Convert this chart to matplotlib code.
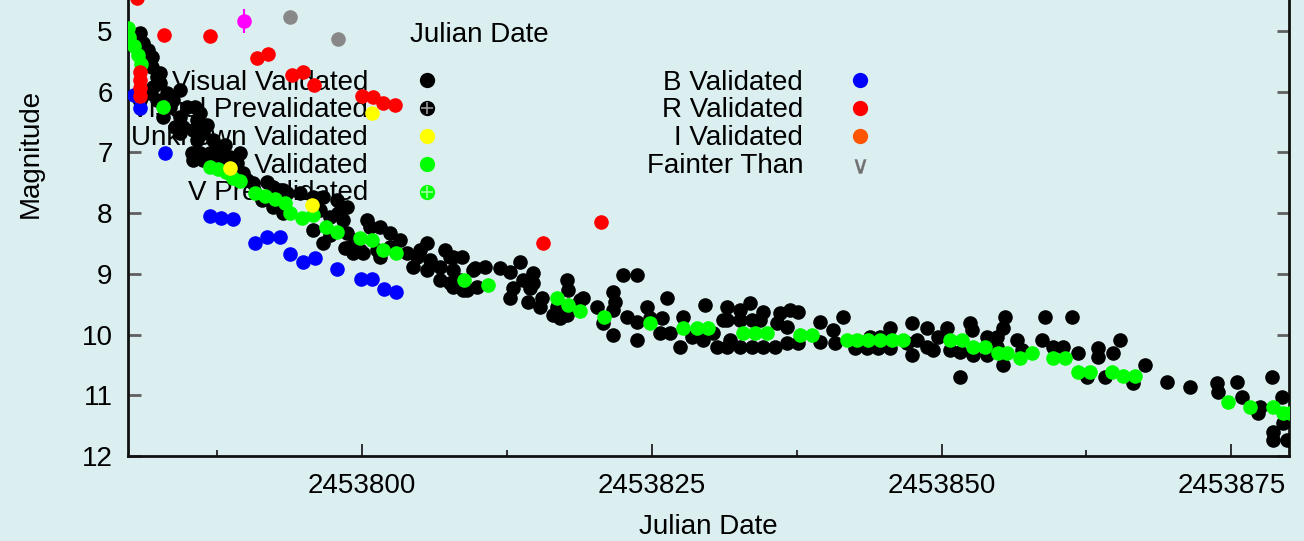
import matplotlib
matplotlib.use("Agg")
import matplotlib.pyplot as plt
from matplotlib.ticker import FixedLocator, FuncFormatter

plt.rcParams['font.family'] = ['Liberation Sans', 'DejaVu Sans']

BG = '#dbeef0'

# Visual Validated (black)
visual_jd = [
    2453780.85, 2453781.10, 2453781.54, 2453781.88, 2453781.88, 2453782.31, 2453782.57, 2453781.97,
    2453781.71, 2453783.18, 2453784.30, 2453783.43, 2453784.90, 2453785.59, 2453786.02, 2453785.76,
    2453784.30, 2453784.56, 2453785.42, 2453786.28, 2453787.14, 2453785.76, 2453785.33, 2453786.02,
    2453786.89, 2453787.75, 2453788.61, 2453789.47, 2453786.28, 2453788.87, 2453789.73, 2453790.08,
    2453790.60, 2453791.80, 2453792.32, 2453792.93, 2453793.53, 2453792.32, 2453793.18, 2453789.21,
    2453787.75, 2453785.42, 2453782.57, 2453782.31, 2453783.69, 2453782.83, 2453784.30, 2453791.37,
    2453783.87, 2453786.63, 2453788.18, 2453787.49, 2453788.44,
    2453794.65, 2453795.77, 2453796.64, 2453797.84, 2453798.71, 2453797.93, 2453797.24, 2453795.77,
    2453796.64, 2453798.36, 2453798.71, 2453798.96, 2453799.22, 2453800.43, 2453800.69, 2453801.55,
    2453802.42, 2453803.28, 2453802.42, 2453801.55, 2453803.88, 2453804.75, 2453805.61, 2453805.87,
    2453806.73, 2453807.85, 2453808.63, 2453807.85, 2453809.58, 2453807.85, 2453809.06, 2453809.92,
    2453801.29, 2453800.09, 2453804.40, 2453805.61, 2453793.18,
    2453796.38, 2453799.40, 2453798.53, 2453797.24, 2453799.83, 2453805.00, 2453807.16, 2453808.46,
    2453806.73,
    2453809.75, 2453810.61, 2453811.91, 2453812.77, 2453813.63, 2453814.75, 2453813.89, 2453813.03,
    2453812.77, 2453814.50, 2453815.53, 2453814.32, 2453815.36, 2453816.82, 2453817.69, 2453817.77,
    2453819.07, 2453817.08, 2453816.48, 2453817.69, 2453818.81, 2453820.28, 2453820.79, 2453821.66,
    2453821.83, 2453821.66, 2453821.66, 2453822.52, 2453823.73, 2453822.86, 2453823.73, 2453823.73,
    2453824.59, 2453824.85, 2453826.32, 2453825.89, 2453826.57, 2453825.71, 2453827.70, 2453827.44,
    2453828.47, 2453829.42, 2453829.59, 2453831.15, 2453831.49, 2453830.63, 2453831.75, 2453830.28,
    2453807.59, 2453808.71, 2453807.59, 2453814.75,
    2453832.61, 2453833.48, 2453834.60, 2453836.07, 2453836.93, 2453837.62, 2453831.49, 2453832.61,
    2453833.65, 2453834.34, 2453835.81, 2453836.67, 2453839.52, 2453840.64, 2453841.50, 2453831.49,
    2453832.61, 2453833.65, 2453834.60, 2453835.63, 2453836.67, 2453837.62, 2453839.52, 2453840.81,
    2453842.54, 2453843.57, 2453844.52, 2453845.56, 2453845.56, 2453847.45, 2453848.75, 2453847.45,
    2453848.75, 2453850.47, 2453851.60, 2453852.46, 2453852.72, 2453853.93, 2453854.79, 2453851.60,
    2453843.83, 2453844.69, 2453847.88, 2453849.70, 2453847.02, 2453850.73, 2453849.27, 2453852.63,
    2453855.48, 2453855.31, 2453855.31, 2453856.51, 2453856.94, 2453858.93, 2453861.26, 2453858.67,
    2453859.62, 2453860.48, 2453861.78, 2453862.55, 2453863.50, 2453864.11, 2453864.80, 2453865.40,
    2453866.52, 2453867.56, 2453869.46, 2453871.44, 2453873.77, 2453873.86, 2453875.50, 2453875.93,
    2453877.48, 2453877.31, 2453878.51, 2453878.60, 2453879.38, 2453879.46, 2453879.81, 2453878.60,
    2453863.50, 2453854.79, 2453853.93,
]
visual_mag = [
    5.03, 5.20, 5.31, 5.43, 5.59, 5.76, 5.69, 5.92,
    6.02, 6.02, 5.97, 6.25, 6.25, 6.25, 6.35, 6.47,
    6.42, 6.58, 6.63, 6.68, 6.80, 6.80, 7.01, 7.01,
    7.01, 7.08, 7.08, 7.01, 7.13, 7.29, 7.34, 7.45,
    7.50, 7.49, 7.57, 7.62, 7.67, 7.90, 8.00, 7.17,
    6.96, 7.13, 5.86, 6.14, 6.14, 6.42, 6.68, 7.78,
    6.58, 6.55, 6.88, 7.21, 7.13,
    7.67, 7.73, 7.73, 7.78, 7.90, 8.00, 8.06, 8.28,
    8.49, 8.11, 8.33, 8.56, 8.66, 8.11, 8.23, 8.23,
    8.33, 8.44, 8.56, 8.72, 8.66, 8.72, 8.49, 8.77,
    8.89, 8.72, 8.72, 8.94, 8.94, 9.22, 9.27, 9.22,
    8.61, 8.66, 8.89, 8.94, 7.62,
    7.95, 8.44, 8.57, 8.36, 8.61, 8.61, 8.61, 9.10,
    9.10,
    8.90, 8.89, 8.90, 8.97, 8.81, 8.99, 9.10, 9.23,
    9.40, 9.23, 9.40, 9.46, 9.55, 9.55, 9.10, 9.27,
    9.40, 9.73, 9.68, 9.68, 9.43, 9.55, 9.81, 9.30,
    9.46, 9.60, 10.01, 9.02, 9.02, 9.71, 9.79, 10.09,
    9.55, 9.73, 9.40, 9.73, 9.98, 9.98, 9.71, 10.21,
    10.04, 10.09, 9.51, 9.76, 9.55, 10.21, 10.09, 9.98,
    9.15, 9.27, 8.72, 9.15,
    9.60, 9.48, 9.63, 9.65, 9.60, 9.63, 9.76, 9.76,
    9.76, 9.76, 9.81, 9.88, 9.79, 9.93, 9.71, 10.21,
    10.21, 10.21, 10.21, 10.21, 10.14, 10.14, 10.12, 10.14,
    10.22, 10.22, 10.22, 10.22, 9.89, 9.81, 9.89, 10.34,
    10.21, 9.89, 10.29, 9.81, 10.34, 10.34, 10.04, 10.70,
    10.04, 10.04, 10.09, 10.04, 10.14, 10.26, 10.26, 9.93,
    9.71, 9.89, 10.50, 10.09, 10.26, 9.71, 9.71, 10.09,
    10.21, 10.21, 10.30, 10.70, 10.22, 10.70, 10.30, 10.09,
    10.80, 10.50, 10.78, 10.86, 10.80, 10.95, 10.78, 11.03,
    11.19, 11.29, 10.70, 11.61, 11.03, 11.46, 11.74, 11.74,
    10.37, 10.21, 10.04,
]

# V Validated (green)
v_jd = [
    2453779.81, 2453779.90, 2453780.33, 2453780.67, 2453780.93, 2453782.83, 2453786.89, 2453787.58,
    2453788.27, 2453788.87, 2453789.47, 2453790.77, 2453791.63, 2453792.49, 2453793.36, 2453793.79,
    2453794.82, 2453795.77, 2453796.89, 2453797.84, 2453799.83, 2453800.86, 2453801.81, 2453802.93,
    2453808.80, 2453810.87, 2453816.82, 2453817.77, 2453818.81, 2453820.88, 2453824.85, 2453827.70,
    2453828.90, 2453829.85, 2453832.87, 2453833.91, 2453834.94, 2453837.79, 2453838.83, 2453841.85,
    2453842.71, 2453843.66, 2453844.69, 2453845.73, 2453846.68, 2453850.73, 2453851.77, 2453852.72,
    2453853.75, 2453854.87, 2453855.65, 2453856.77, 2453857.81, 2453859.62, 2453860.66, 2453861.78,
    2453862.81, 2453864.71, 2453865.66, 2453866.69, 2453874.72, 2453876.62, 2453878.60, 2453879.46,
    2453880.07,
]
v_mag = [
    4.95, 5.10, 5.25, 5.40, 5.54, 6.25, 7.24, 7.27,
    7.32, 7.42, 7.47, 7.67, 7.72, 7.77, 7.83, 8.00,
    8.08, 8.03, 8.23, 8.31, 8.41, 8.44, 8.61, 8.66,
    9.10, 9.18, 9.40, 9.51, 9.61, 9.71, 9.81, 9.89,
    9.89, 9.89, 9.98, 9.98, 9.98, 10.01, 10.01, 10.09,
    10.09, 10.09, 10.09, 10.09, 10.09, 10.09, 10.09, 10.21,
    10.21, 10.30, 10.30, 10.39, 10.30, 10.39, 10.39, 10.62,
    10.62, 10.62, 10.68, 10.68, 11.11, 11.19, 11.19, 11.29,
    11.29,
]

# B Validated (blue)
b_jd = [2453780.33, 2453780.85, 2453783.00, 2453786.89, 2453787.83, 2453788.87, 2453790.77,
        2453791.80, 2453792.93, 2453793.79, 2453794.91, 2453795.94, 2453797.84, 2453799.91,
        2453800.86, 2453801.90, 2453802.93]
b_mag = [6.05, 6.27, 7.01, 8.05, 8.08, 8.10, 8.49, 8.39, 8.39, 8.67, 8.81, 8.74, 8.92,
         9.09, 9.09, 9.25, 9.30]

# R Validated (red)
r_jd = [2453780.59, 2453782.92, 2453786.89, 2453790.94, 2453791.89, 2453793.96, 2453794.91,
        2453795.86, 2453780.85, 2453780.85, 2453780.85, 2453780.85, 2453800.00, 2453800.95,
        2453801.81, 2453802.85, 2453820.62]
r_mag = [4.46, 5.07, 5.08, 5.44, 5.38, 5.72, 5.68, 5.89, 5.68, 5.81, 5.94, 6.07, 6.07,
         6.09, 6.19, 6.22, 8.15]
r_err_jd = [2453815.62]
r_err_mag = [8.49]
r_err = [0.1]

# Unknown Validated (yellow)
u_jd = [2453800.86, 2453788.61, 2453795.70]
u_mag = [6.35, 7.26, 7.87]

# other bands
grey_jd = [2453793.79, 2453797.93]
grey_mag = [4.77, 5.13]
mag_jd = [2453789.82]
mag_mag = [4.84]
mag_err = [0.2]

legend_left = ['Visual Validated', 'Visual Prevalidated', 'Unknown Validated',
               'V Validated', 'V Prevalidated']
legend_right = ['B Validated', 'R Validated', 'I Validated', 'Fainter Than']

x_major = [2453800, 2453825, 2453850, 2453875]
x_minor = [2453787.5, 2453812.5, 2453837.5, 2453862.5]
y_major = [5, 6, 7, 8, 9, 10, 11, 12]

fig = plt.figure(figsize=(13.04, 5.41), dpi=100, facecolor=BG)
ax = fig.add_axes([128 / 1304, 85 / 541, 1161 / 1304, 456 / 541], facecolor=BG)

ms = 10.5
ax.plot(visual_jd, visual_mag, 'o', color='black', ms=ms, mew=0, zorder=3)
ax.plot(v_jd, v_mag, 'o', color='#00ff00', ms=ms, mew=0, zorder=4)
ax.plot(b_jd, b_mag, 'o', color='#0000ff', ms=ms, mew=0, zorder=4)
ax.plot(r_jd, r_mag, 'o', color='#ff0000', ms=ms, mew=0, zorder=5)
ax.errorbar(r_err_jd, r_err_mag, yerr=r_err, fmt='o', color='#ff0000', ms=ms, mew=0,
            elinewidth=1.5, capsize=0, zorder=5)
ax.plot(u_jd, u_mag, 'o', color='#ffff00', ms=ms, mew=0, zorder=6)
ax.plot(grey_jd, grey_mag, 'o', color='#888888', ms=ms, mew=0, zorder=4)
ax.errorbar(mag_jd, mag_mag, yerr=mag_err, fmt='o', color='#ff00ff', ms=ms, mew=0,
            elinewidth=1.5, capsize=0, zorder=4)

ax.set_xlim(2453779.81, 2453879.98)
ax.set_ylim(12, 4.489)

# legend drawn under the data
fs = 20
tkw = dict(transform=ax.transAxes, fontsize=fs, zorder=1, va='baseline', ha='right')
ax.text(0.2429, 0.9079, 'Julian Date', transform=ax.transAxes, fontsize=fs, zorder=1,
        va='baseline', ha='left')
base_y = [0.8026, 0.7434, 0.6820, 0.6206, 0.5614]
mark_y = [0.8246, 0.7632, 0.7018, 0.6404, 0.5789]
for lbl, yb in zip(legend_left, base_y):
    ax.text(0.2067, yb, lbl, **tkw)
for lbl, yb in zip(legend_right, base_y):
    ax.text(0.5814, yb, lbl, **tkw)

lkw = dict(transform=ax.transAxes, ms=11, mew=0, zorder=2, clip_on=False)
ax.plot([0.2575], [mark_y[0]], 'o', color='black', **lkw)
ax.plot([0.2575], [mark_y[1]], 'o', color='black', **lkw)
ax.plot([0.2575], [mark_y[1]], '+', color='#9a9a9a', transform=ax.transAxes, ms=8, mew=1.2, zorder=2)
ax.plot([0.2575], [mark_y[2]], 'o', color='#ffff00', **lkw)
ax.plot([0.2575], [mark_y[3]], 'o', color='#00ff00', **lkw)
ax.plot([0.2575], [mark_y[4]], 'o', color='#00ff00', **lkw)
ax.plot([0.2575], [mark_y[4]], '+', color='#9dff9d', transform=ax.transAxes, ms=8, mew=1.2, zorder=2)
ax.plot([0.6305], [mark_y[0]], 'o', color='#0000ff', **lkw)
ax.plot([0.6305], [mark_y[1]], 'o', color='#ff0000', **lkw)
ax.plot([0.6305], [mark_y[2]], 'o', color='#ff5500', **lkw)
ax.plot([0.6305], [0.6360], marker=r'$\vee$', color='#707070', transform=ax.transAxes,
        ms=10, mew=0.3, ls='none', zorder=2)

# axes styling
ax.spines['top'].set_visible(False)
for s in ['left', 'right', 'bottom']:
    ax.spines[s].set_linewidth(2.0)
    ax.spines[s].set_color('#111111')

ax.xaxis.set_major_locator(FixedLocator(x_major))
ax.xaxis.set_minor_locator(FixedLocator(x_minor))
ax.xaxis.set_major_formatter(FuncFormatter(lambda v, p: f'{v:.0f}'))
ax.yaxis.set_major_locator(FixedLocator(y_major))
ax.yaxis.set_minor_locator(FixedLocator([]))

ax.tick_params(axis='x', which='major', direction='in', length=9, width=1.3, color='#222222',
               labelsize=fs, pad=12)
ax.tick_params(axis='x', which='minor', direction='in', length=4, width=1.3, color='#222222')
ax.tick_params(axis='y', which='major', direction='in', length=9, width=2, color='#606060',
               labelsize=fs, pad=11, left=True, right=True)

ax.set_xlabel('Julian Date', fontsize=fs, labelpad=11)
fig.text(31 / 1304, 1 - 153 / 541, 'Magnitude', rotation=90, fontsize=fs,
         ha='center', va='center')

fig.savefig('out.png', dpi=100, facecolor=BG)
